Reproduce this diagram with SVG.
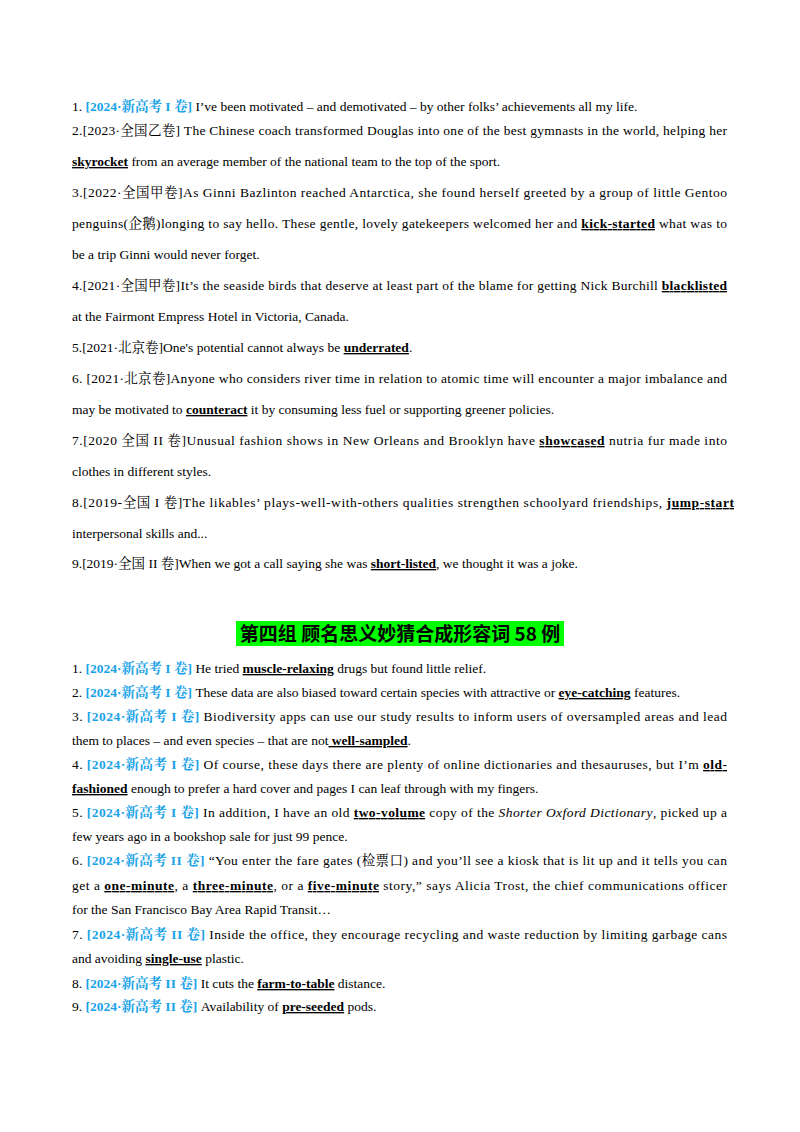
<svg xmlns="http://www.w3.org/2000/svg" width="800" height="1132" viewBox="0 0 800 1132">
<style>
text{font-family:"Liberation Serif","Noto Serif CJK SC","Noto Sans CJK SC",serif;font-size:13.5px;fill:#000}
.b{font-weight:bold;text-decoration:underline}
.c{fill:#1AA3E8;font-weight:bold}
.i{font-style:italic}
.h{font-family:"Noto Sans CJK SC",sans-serif;font-weight:bold;font-size:19px}
</style>
<rect width="800" height="1132" fill="#fff"/>
<g id="part1">
<text x="72" y="111">1.  <tspan class="c">[2024·新高考 I 卷]</tspan>  I’ve been motivated – and demotivated – by other folks’ achievements all my life.</text>
<text x="72" y="135" textLength="655" lengthAdjust="spacing">2.[2023·全国乙卷] The Chinese coach transformed Douglas into one of the best gymnasts in the world, helping her</text>
<text x="72" y="166"><tspan class="b">skyrocket</tspan>  from an average member of the national team to the top of the sport.</text>
<text x="72" y="197" textLength="655" lengthAdjust="spacing">3.[2022·全国甲卷]As Ginni Bazlinton reached Antarctica, she found herself greeted by a group of little Gentoo</text>
<text x="72" y="228" textLength="655" lengthAdjust="spacing">penguins(企鹅)longing to say hello. These gentle, lovely gatekeepers welcomed her and  <tspan class="b">kick-started</tspan>  what was to</text>
<text x="72" y="259">be a trip Ginni would never forget.</text>
<text x="72" y="290" textLength="655" lengthAdjust="spacing">4.[2021·全国甲卷]It’s the seaside birds that deserve at least part of the blame for getting Nick Burchill  <tspan class="b">blacklisted</tspan></text>
<text x="72" y="321">at the Fairmont Empress Hotel in Victoria, Canada.</text>
<text x="72" y="352">5.[2021·北京卷]One's potential cannot always be  <tspan class="b">underrated</tspan>.</text>
<text x="72" y="383" textLength="655" lengthAdjust="spacing">6.  [2021·北京卷]Anyone who considers river time in relation to atomic time will encounter a major imbalance and</text>
<text x="72" y="414">may be motivated to  <tspan class="b">counteract</tspan>  it by consuming less fuel or supporting greener policies.</text>
<text x="72" y="445" textLength="655" lengthAdjust="spacing">7.[2020 全国 II 卷]Unusual fashion shows in New Orleans and Brooklyn have  <tspan class="b">showcased</tspan>  nutria fur made into</text>
<text x="72" y="476">clothes in different styles.</text>
<text x="72" y="507" textLength="662" lengthAdjust="spacing">8.[2019-全国 I 卷]The likables’ plays-well-with-others qualities strengthen schoolyard friendships,  <tspan class="b">jump-start  </tspan></text>
<text x="72" y="538">interpersonal skills and...</text>
<text x="72" y="568">9.[2019·全国 II 卷]When we got a call saying she was  <tspan class="b">short-listed</tspan>, we thought it was a joke.</text>
</g>
<g id="heading">
<rect x="236" y="621" width="328" height="25" fill="#00FF00"/>
<text class="h" x="400" y="641" text-anchor="middle">第四组  顾名思义妙猜合成形容词  58 例</text>
</g>
<g id="part2">
<text x="72" y="673">1.  <tspan class="c">[2024·新高考 I 卷]</tspan>  He tried  <tspan class="b">muscle-relaxing</tspan>  drugs but found little relief.</text>
<text x="72" y="697">2.  <tspan class="c">[2024·新高考 I 卷]</tspan>  These data are also biased toward certain species with attractive or  <tspan class="b">eye-catching</tspan>  features.</text>
<text x="72" y="721" textLength="655" lengthAdjust="spacing">3.  <tspan class="c">[2024·新高考 I 卷]</tspan>  Biodiversity apps can use our study results to inform users of oversampled areas and lead</text>
<text x="72" y="745">them to places – and even species – that are not<tspan class="b">  well-sampled</tspan>.</text>
<text x="72" y="769" textLength="655" lengthAdjust="spacing">4.  <tspan class="c">[2024·新高考 I 卷]</tspan>  Of course, these days there are plenty of online dictionaries and thesauruses, but I’m  <tspan class="b">old-</tspan></text>
<text x="72" y="793"><tspan class="b">fashioned</tspan>  enough to prefer a hard cover and pages I can leaf through with my fingers.</text>
<text x="72" y="817" textLength="655" lengthAdjust="spacing">5.  <tspan class="c">[2024·新高考 I 卷]</tspan>  In addition, I have an old  <tspan class="b">two-volume</tspan>  copy of the  <tspan class="i">Shorter Oxford Dictionary</tspan>, picked up a</text>
<text x="72" y="841">few years ago in a bookshop sale for just 99 pence.</text>
<text x="72" y="865" textLength="655" lengthAdjust="spacing">6.  <tspan class="c">[2024·新高考 II 卷]</tspan>  “You enter the fare gates (检票口) and you’ll see a kiosk that is lit up and it tells you can</text>
<text x="72" y="890" textLength="655" lengthAdjust="spacing">get a  <tspan class="b">one-minute</tspan>, a  <tspan class="b">three-minute</tspan>, or a  <tspan class="b">five-minute</tspan>  story,” says Alicia Trost, the chief communications officer</text>
<text x="72" y="914">for the San Francisco Bay Area Rapid Transit…</text>
<text x="72" y="939" textLength="655" lengthAdjust="spacing">7.  <tspan class="c">[2024·新高考 II 卷]</tspan>  Inside the office, they encourage recycling and waste reduction by limiting garbage cans</text>
<text x="72" y="963">and avoiding  <tspan class="b">single-use</tspan>  plastic.</text>
<text x="72" y="988">8.  <tspan class="c">[2024·新高考 II 卷]</tspan>  It cuts the  <tspan class="b">farm-to-table</tspan>  distance.</text>
<text x="72" y="1011">9.  <tspan class="c">[2024·新高考 II 卷]</tspan>  Availability of  <tspan class="b">pre-seeded</tspan>  pods.</text>
</g>
</svg>
